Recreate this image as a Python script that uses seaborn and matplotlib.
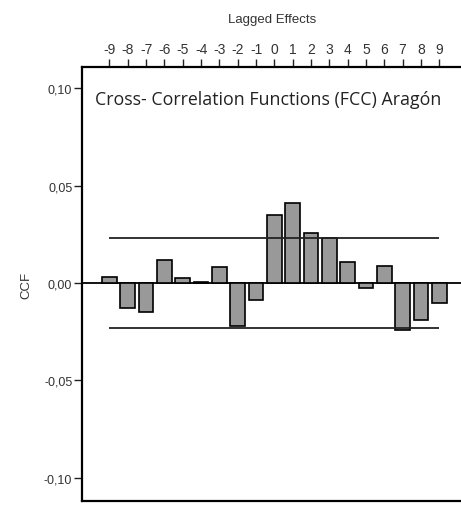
import matplotlib
matplotlib.use("Agg")
import matplotlib.pyplot as plt
import seaborn as sns
import pandas as pd
from matplotlib.ticker import FuncFormatter

lags = [-9, -8, -7, -6, -5, -4, -3, -2, -1, 0, 1, 2, 3, 4, 5, 6, 7, 8, 9]
ccf = [0.003, -0.013, -0.015, 0.012, 0.0025, 0.0004, 0.008, -0.022, -0.0085,
       0.035, 0.041, 0.0255, 0.023, 0.011, -0.0025, 0.0085, -0.024, -0.019, -0.0105]
conf_limit = 0.023
y_ticks = [-0.10, -0.05, 0.00, 0.05, 0.10]
title_text = "Cross- Correlation Functions (FCC) Aragón"
x_title = "Lagged Effects"
y_title = "CCF"

sns.set_style("white")
plt.rcParams['font.family'] = ['Liberation Sans', 'DejaVu Sans']

df = pd.DataFrame({"lag": lags, "ccf": ccf})

W, H = 461, 506
fig = plt.figure(figsize=(W / 100, H / 100), dpi=100)
left, right, top, bottom = 82, 463, 68, 502
ax = fig.add_axes([left / W, (H - bottom) / H, (right - left) / W, (bottom - top) / H])

sns.barplot(data=df, x="lag", y="ccf", native_scale=True, width=0.8,
            color="#999999", saturation=1, edgecolor="black", linewidth=1.2, ax=ax)

ax.axhline(0, color="black", lw=1.3, zorder=0.5)
ax.hlines([conf_limit, -conf_limit], lags[0], lags[-1], color="#222222", lw=1.3)

ax.set_xlim(-10.5, 10.3)
ax.set_ylim(-0.112, 0.111)

ax.xaxis.tick_top()
ax.xaxis.set_label_position("top")
ax.set_xticks(lags)
ax.set_xticklabels([str(v) for v in lags])
ax.set_xlabel(x_title, fontsize=9.5, labelpad=14, color="#333333")
ax.set_yticks(y_ticks)
ax.yaxis.set_major_formatter(FuncFormatter(lambda v, p: f"{v:.2f}".replace(".", ",")))
ax.set_ylabel(y_title, fontsize=9.5, labelpad=8, color="#333333")

ax.tick_params(axis="x", which="both", top=True, bottom=False, direction="out",
               length=6, width=1, colors="#222222", labelsize=10, pad=2)
ax.tick_params(axis="y", which="both", left=True, direction="out",
               length=6, width=1, colors="#222222", labelsize=9, pad=1)
for lab in ax.get_xticklabels() + ax.get_yticklabels():
    lab.set_color("#333333")

for s in ["left", "top", "bottom"]:
    ax.spines[s].set_visible(True)
    ax.spines[s].set_linewidth(1.6)
    ax.spines[s].set_color("black")
ax.spines["right"].set_visible(False)

ax.text(95 / W, (H - 100) / H, title_text, transform=fig.transFigure,
        fontsize=12.8, va="center", ha="left", color="#222222",
        family=["Open Sans", "DejaVu Sans"])

fig.savefig("out.png", dpi=100)
